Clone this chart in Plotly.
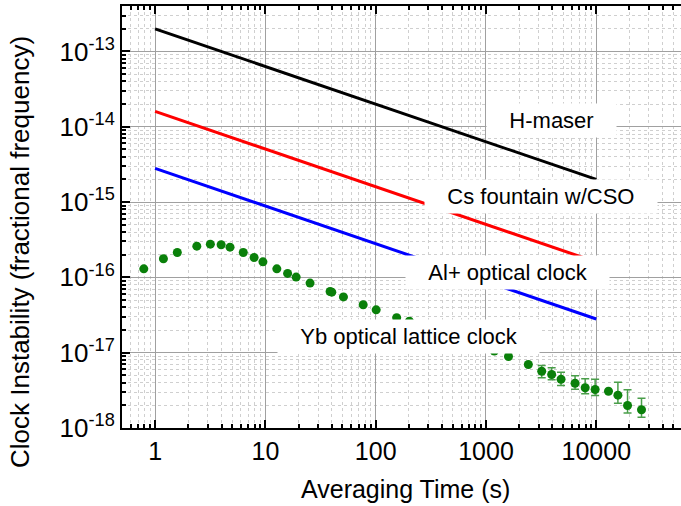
import plotly.graph_objects as go

# ---------------- data ----------------
tau_lines = [1, 10000]
hmaser = [2.0e-13, 2.0e-15]
cs_fountain = [1.6e-14, 1.6e-16]
al_clock = [2.8e-15, 2.8e-17]

yb_tau = [0.79, 1.19, 1.59, 2.39, 3.17, 3.97, 4.78, 6.3, 7.9, 9.5, 12.7, 15.9, 19.0,
          25.4, 38.6, 40.0, 51, 77, 101, 155, 202, 1190, 1600, 2420, 3200, 3940, 4790,
          6420, 7930, 9760, 12900, 15700, 19200, 25700]
yb_sigma = [1.30e-16, 1.77e-16, 2.14e-16, 2.60e-16, 2.76e-16, 2.71e-16, 2.52e-16,
            2.14e-16, 1.84e-16, 1.61e-16, 1.30e-16, 1.13e-16, 1.01e-16, 8.4e-17,
            6.5e-17, 6.36e-17, 5.5e-17, 4.33e-17, 3.71e-17, 2.91e-17, 2.62e-17,
            1.05e-17, 8.9e-18, 6.97e-18, 5.68e-18, 5.13e-18, 4.44e-18, 3.93e-18,
            3.42e-18, 3.25e-18, 3.08e-18, 2.73e-18, 1.99e-18, 1.75e-18]
yb_err_hi = [None] * 24 + [6.76e-18, 6.31e-18, 5.51e-18, 4.93e-18, 4.50e-18, 4.44e-18,
                           None, 4.06e-18, 3.21e-18, 2.49e-18]
yb_err_lo = [None] * 24 + [4.65e-18, 4.37e-18, 3.66e-18, 3.27e-18, 2.84e-18, 2.70e-18,
                           None, 2.13e-18, 1.58e-18, 1.39e-18]

x_tickvals = [1, 10, 100, 1000, 10000]
x_ticktext = ["1", "10", "100", "1000", "10000"]
y_exps = [-18, -17, -16, -15, -14, -13]
y_tickvals = [10.0 ** e for e in y_exps]
y_ticktext = ["10<sup>%d</sup>" % e for e in y_exps]

labels = ["H-maser", "Cs fountain w/CSO", "Al+ optical clock", "Yb optical lattice clock"]

# ---------------- figure ----------------
W, H = 681, 506
L, R, T, B = 122, 0, 6, 78
PW, PH = W - L - R, H - T - B

def px(xp):
    return (xp - L) / PW

def py(yp):
    return (H - B - yp) / PH

err_plus = [(h - s) if h is not None else 0 for h, s in zip(yb_err_hi, yb_sigma)]
err_minus = [(s - l) if l is not None else 0 for l, s in zip(yb_err_lo, yb_sigma)]

fig = go.Figure()
for ys, col in [(hmaser, "black"), (cs_fountain, "#ff0000"), (al_clock, "#0000ff")]:
    fig.add_trace(go.Scatter(x=tau_lines, y=ys, mode="lines",
                             line=dict(color=col, width=3), showlegend=False))

fig.add_trace(go.Scatter(
    x=yb_tau, y=yb_sigma, mode="markers",
    marker=dict(color="#0a800a", size=9),
    error_y=dict(type="data", symmetric=False, array=err_plus, arrayminus=err_minus,
                 color="#4a9e4a", thickness=1.5, width=4),
    showlegend=False))

minor_x = [m * 10.0 ** d for d in range(-1, 5) for m in range(2, 10)]
minor_y = [m * 10.0 ** d for d in range(-19, -12) for m in range(2, 10)]

font_family = "Liberation Sans, Arial, sans-serif"

fig.update_xaxes(
    type="log", range=[-0.3, 4.768],
    tickvals=x_tickvals, ticktext=x_ticktext,
    ticks="inside", ticklen=8, tickwidth=1.5, tickcolor="black",
    showline=True, linecolor="black", linewidth=2, mirror="ticks",
    showgrid=True, gridcolor="#a0a0a0", gridwidth=1,
    tickfont=dict(size=25, color="black", family=font_family),
    minor=dict(tickvals=minor_x, ticks="inside", ticklen=4, tickcolor="black",
               showgrid=True, gridcolor="#cfcfcf", griddash="dot", gridwidth=1),
    zeroline=False, automargin=False,
)
fig.update_yaxes(
    type="log", range=[-18, -12.396],
    tickvals=y_tickvals, ticktext=y_ticktext,
    ticks="inside", ticklen=8, tickwidth=1.5, tickcolor="black",
    showline=True, linecolor="black", linewidth=2, mirror=False,
    showgrid=True, gridcolor="#a0a0a0", gridwidth=1,
    tickfont=dict(size=26, color="black", family=font_family),
    minor=dict(tickvals=minor_y, ticks="inside", ticklen=4, tickcolor="black",
               showgrid=True, gridcolor="#cfcfcf", griddash="dot", gridwidth=1),
    zeroline=False, automargin=False,
)

sp = "&nbsp;&nbsp;&nbsp;"
label_pos = [(551, 121), (541, 196), (507, 272), (408, 336)]
annotations = []
for text, (xp, yp) in zip(labels, label_pos):
    annotations.append(dict(
        text=sp + text + sp, x=px(xp), y=py(yp), xref="paper", yref="paper",
        showarrow=False, bgcolor="white", borderpad=4,
        font=dict(size=22, color="black", family=font_family),
        xanchor="center", yanchor="middle"))

annotations.append(dict(
    text="Averaging Time (s)", x=px(405), y=py(489), xref="paper", yref="paper",
    showarrow=False, font=dict(size=25, color="black", family=font_family),
    xanchor="center", yanchor="middle"))
annotations.append(dict(
    text="Clock Instability (fractional frequency)", x=px(20), y=py(252),
    xref="paper", yref="paper", textangle=-90,
    showarrow=False, font=dict(size=26, color="black", family=font_family),
    xanchor="center", yanchor="middle"))

fig.update_layout(
    width=W, height=H,
    margin=dict(l=L, r=R, t=T, b=B),
    paper_bgcolor="white", plot_bgcolor="white",
    annotations=annotations,
    font=dict(family=font_family, color="black"),
)

fig.write_html("out.html", config={"displayModeBar": False},
               post_script="document.body.style.margin='0px';")
